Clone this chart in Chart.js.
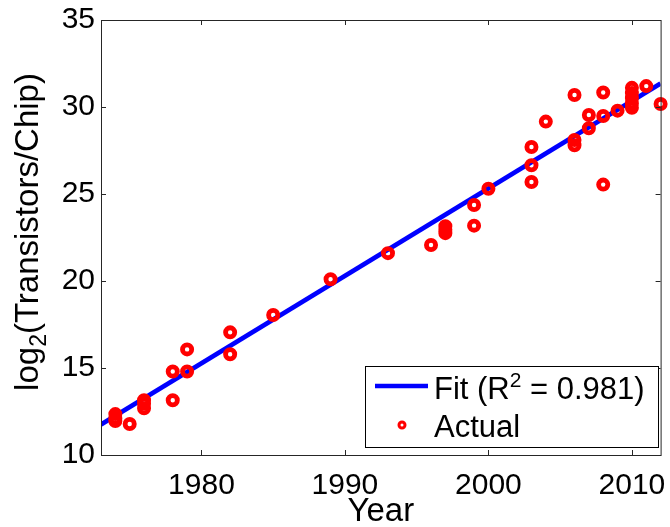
<!DOCTYPE html>
<html>
<head>
<meta charset="utf-8">
<script src="https://cdn.jsdelivr.net/npm/chart.js@4.4.1/dist/chart.umd.min.js"></script>
<style>
  html, body { margin: 0; padding: 0; background: #fff; }
</style>
</head>
<body>
<canvas id="chart" width="670" height="527"></canvas>
<script>
const FONT = '"Liberation Sans", Arial, sans-serif';

// tick labels
const xTicks = [1980, 1990, 2000, 2010];
const yTicks = [10, 15, 20, 25, 30, 35];

// actual chips (year, log2 transistors)
const actualYears = [
    1974, 1974, 1974, 1975, 1976, 1976, 1976, 1978, 1978, 1979, 1979,
    1982, 1982, 1985, 1989, 1993, 1996, 1997, 1997, 1997, 1999, 1999,
    2000, 2003, 2003, 2003, 2004, 2006, 2006, 2006, 2007, 2007,
    2008, 2008, 2008, 2009, 2010, 2010, 2010, 2010, 2010, 2011, 2012
];
const actualValues = [
    12.35, 12.1, 11.95, 11.78, 13.15, 12.95, 12.68, 14.8, 13.15, 16.07, 14.8,
    17.05, 15.79, 18.05, 20.1, 21.6, 22.07, 23.15, 22.95, 22.75, 24.37, 23.18,
    25.3, 27.7, 26.65, 25.69, 29.16, 30.69, 28.1, 27.8, 29.54, 28.78,
    30.83, 29.48, 25.54, 29.79, 31.1, 30.8, 30.5, 30.2, 29.95, 31.2, 30.17
];

// fitted line end points
const fitYears = [1973, 2012];
const fitValues = [11.75, 31.35];

const TICK_LEN = 5;

// draws the y label with a subscript
function drawRich(ctx, parts) {
    let total = 0;
    parts.forEach(p => { ctx.font = p.font; p.w = ctx.measureText(p.text).width; total += p.w; });
    let x = -total / 2;
    parts.forEach(p => {
        ctx.font = p.font;
        ctx.fillText(p.text, x, p.dy || 0);
        x += p.w;
    });
}

const framePlugin = {
    id: 'frame',
    afterDatasetsDraw(chart) {
        const { ctx, chartArea: a, scales: { x, y } } = chart;
        ctx.save();
        ctx.strokeStyle = '#262626';
        ctx.lineWidth = 1;
        ctx.strokeRect(a.left + 0.5, a.top + 0.5, a.right - a.left, a.bottom - a.top);

        // ticks point inward, on all four sides
        ctx.beginPath();
        xTicks.forEach(v => {
            const px = Math.round(x.getPixelForValue(v)) + 0.5;
            ctx.moveTo(px, a.bottom); ctx.lineTo(px, a.bottom - TICK_LEN);
            ctx.moveTo(px, a.top); ctx.lineTo(px, a.top + TICK_LEN);
        });
        yTicks.forEach(v => {
            const py = Math.round(y.getPixelForValue(v)) + 0.5;
            ctx.moveTo(a.left, py); ctx.lineTo(a.left + TICK_LEN, py);
            ctx.moveTo(a.right, py); ctx.lineTo(a.right - TICK_LEN, py);
        });
        ctx.stroke();

        // legend box
        const L = { x: 365, y: 366, w: 293, h: 81 };
        ctx.fillStyle = '#fff';
        ctx.fillRect(L.x, L.y, L.w, L.h);
        ctx.strokeStyle = '#000';
        ctx.strokeRect(L.x + 0.5, L.y + 0.5, L.w, L.h);

        ctx.strokeStyle = '#0000ff';
        ctx.lineWidth = 4.5;
        ctx.beginPath();
        ctx.moveTo(375, 386); ctx.lineTo(428, 386);
        ctx.stroke();

        ctx.strokeStyle = '#ff0000';
        ctx.lineWidth = 3;
        ctx.beginPath();
        ctx.arc(402, 425, 3, 0, Math.PI * 2);
        ctx.stroke();

        ctx.fillStyle = '#000';
        ctx.textBaseline = 'alphabetic';
        ctx.textAlign = 'left';
        let tx = 434;
        [
            { text: 'Fit (R', font: `31px ${FONT}`, dy: 0 },
            { text: '2', font: `21px ${FONT}`, dy: -12 },
            { text: ' = 0.981)', font: `31px ${FONT}`, dy: 0 }
        ].forEach(p => {
            ctx.font = p.font;
            ctx.fillText(p.text, tx, 399 + p.dy);
            tx += ctx.measureText(p.text).width;
        });
        ctx.font = `31px ${FONT}`;
        ctx.fillText('Actual', 434, 437);

        // y axis title
        ctx.translate(38, 232);
        ctx.rotate(-Math.PI / 2);
        ctx.textAlign = 'left';
        drawRich(ctx, [
            { text: 'log', font: `33px ${FONT}` },
            { text: '2', font: `23px ${FONT}`, dy: 8 },
            { text: '(Transistors/Chip)', font: `33px ${FONT}` }
        ]);
        ctx.restore();
    }
};

new Chart(document.getElementById('chart'), {
    data: {
        datasets: [
            {
                type: 'scatter',
                label: 'Actual',
                data: actualYears.map((yr, i) => ({ x: yr, y: actualValues[i] })),
                pointStyle: 'circle',
                pointRadius: 4.6,
                pointBorderWidth: 4.8,
                borderColor: '#ff0000',
                backgroundColor: 'rgba(0,0,0,0)',
                clip: false,
                order: 1
            },
            {
                type: 'line',
                label: 'Fit',
                data: fitYears.map((yr, i) => ({ x: yr, y: fitValues[i] })),
                borderColor: '#0000ff',
                borderWidth: 4.8,
                pointRadius: 0,
                order: 2
            }
        ]
    },
    options: {
        responsive: false,
        animation: false,
        layout: { padding: { top: 20, right: 6, left: 0, bottom: 0 } },
        plugins: {
            legend: { display: false },
            tooltip: { enabled: false }
        },
        scales: {
            x: {
                type: 'linear',
                min: 1973,
                max: 2012,
                afterBuildTicks: s => { s.ticks = xTicks.map(v => ({ value: v })); },
                afterFit: s => { s.height = 72; s.paddingLeft = 0; s.paddingRight = 0; },
                grid: { display: false, drawTicks: false },
                border: { display: false },
                ticks: {
                    font: { family: FONT, size: 30 },
                    color: '#000',
                    padding: 13,
                    maxRotation: 0,
                    autoSkip: false,
                    callback: v => String(v)
                },
                title: {
                    display: true,
                    text: 'Year',
                    color: '#000',
                    font: { family: FONT, size: 33, lineHeight: 1 },
                    padding: { top: 0, bottom: -1 }
                }
            },
            y: {
                type: 'linear',
                min: 10,
                max: 35,
                afterBuildTicks: s => { s.ticks = yTicks.map(v => ({ value: v })); },
                afterFit: s => { s.width = 101; s.paddingTop = 0; s.paddingBottom = 0; },
                grid: { display: false, drawTicks: false },
                border: { display: false },
                ticks: {
                    font: { family: FONT, size: 30 },
                    color: '#000',
                    padding: 6
                }
            }
        }
    },
    plugins: [framePlugin]
});
</script>
</body>
</html>
